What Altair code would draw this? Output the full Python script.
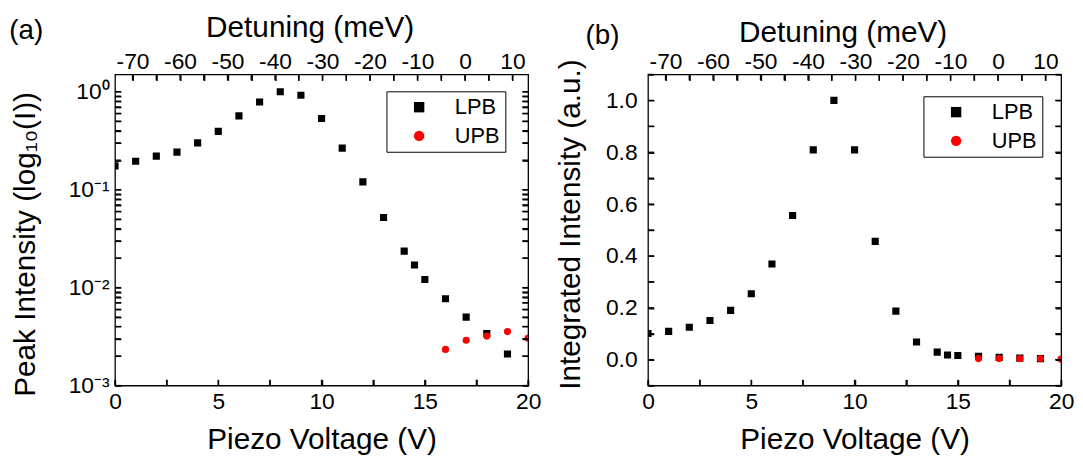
import altair as alt
import pandas as pd

FONT = "Liberation Sans"

# ---------------- data ----------------
lpb_v = [0, 1, 2, 3, 4, 5, 6, 7, 8, 9, 10, 11, 12, 13, 14, 14.5, 15, 16, 17, 18, 19]
lpb_peak = [0.175, 0.195, 0.22, 0.242, 0.30, 0.394, 0.567, 0.785, 1.0, 0.92, 0.533,
            0.266, 0.12, 0.052, 0.0236, 0.017, 0.0121, 0.0077, 0.0050, 0.0034, 0.0021]
lpb_int = [0.101, 0.109, 0.125, 0.151, 0.19, 0.254, 0.369, 0.556, 0.809, 1.0, 0.809,
           0.456, 0.187, 0.068, 0.029, 0.018, 0.016, 0.013, 0.009, 0.006, 0.004]
upb_v = [16, 17, 18, 19, 20]
upb_peak = [0.00234, 0.0029, 0.0032, 0.00356, 0.00305]
upb_int = [0.004, 0.004, 0.004, 0.004, 0.002]

branch_names = ["LPB", "UPB"]
branch_colors = ["#000000", "#ff0000"]
branch_shapes = ["square", "circle"]

piezo_domain = [0, 20]
piezo_labels = [0, 5, 10, 15, 20]
piezo_ticks = [0, 2.5, 5, 7.5, 10, 12.5, 15, 17.5, 20]
# detuning (meV) at piezo 0 V and 20 V
detuning_range = [-73.7, 13.3]
detuning_labels = [-70, -60, -50, -40, -30, -20, -10, 0, 10]
detuning_ticks = [-70, -65, -60, -55, -50, -45, -40, -35, -30, -25, -20, -15, -10, -5, 0, 5, 10]
peak_domain = [0.001, 1.5]
peak_label_values = [0.001, 0.01, 0.1, 1]
peak_label_texts = ["10⁻³", "10⁻²", "10⁻¹", "10⁰"]
peak_ticks = [0.001, 0.002, 0.003, 0.004, 0.005, 0.006, 0.007, 0.008, 0.009,
              0.01, 0.02, 0.03, 0.04, 0.05, 0.06, 0.07, 0.08, 0.09,
              0.1, 0.2, 0.3, 0.4, 0.5, 0.6, 0.7, 0.8, 0.9, 1.0]
int_domain = [-0.1, 1.1]
int_labels = [0.0, 0.2, 0.4, 0.6, 0.8, 1.0]
int_label_texts = ["0.0", "0.2", "0.4", "0.6", "0.8", "1.0"]
int_ticks = [-0.1, 0.0, 0.1, 0.2, 0.3, 0.4, 0.5, 0.6, 0.7, 0.8, 0.9, 1.0, 1.1]

W, H = 417, 314
TL = 6                                  # tick length (px), drawn inward
TICK = alt.ExprRef(expr=f"-{TL}")
TICK_W = 1.4

# detuning -> piezo position (the top axis is drawn on the piezo scale)
d0, d1 = detuning_range
span = (d1 - d0) / (piezo_domain[1] - piezo_domain[0])


def det_to_v(d):
    return (d - d0) / span


det_tick_pos = [det_to_v(d) for d in detuning_ticks]
det_val = f"round(datum.value * {span} + ({d0}))"
det_expr = f"({det_val}) % 10 == 0 ? '' + ({det_val}) : ''"


def build_df(values_lpb, values_upb, y_ticks):
    rows = []
    for v, y in zip(lpb_v, values_lpb):
        rows.append({"V": v, "val": y, "Branch": "LPB", "kind": "data"})
    for v, y in zip(upb_v, values_upb):
        rows.append({"V": v, "val": y, "Branch": "UPB", "kind": "data"})
    for v in piezo_ticks:
        rows.append({"V": v, "val": None, "Branch": None, "kind": "xb"})
    for v in det_tick_pos:
        rows.append({"V": v, "val": None, "Branch": None, "kind": "xt"})
    for y in y_ticks:
        rows.append({"V": None, "val": y, "Branch": None, "kind": "y"})
    return pd.DataFrame(rows)


df_a = build_df(lpb_peak, upb_peak, peak_ticks)
df_b = build_df(lpb_int, upb_int, int_ticks)

piezo_scale = alt.Scale(domain=piezo_domain, nice=False, zero=False)
peak_scale = alt.Scale(type="log", domain=peak_domain, nice=False)
int_scale = alt.Scale(domain=int_domain, nice=False, zero=False)


def label_expr(values, texts, rel):
    expr = "''"
    for v, t in zip(values, texts):
        tol = abs(v) * 0.01 if rel else 1e-6
        expr = f"abs(datum.value - ({v})) < {tol} ? '{t}' : " + expr
    return expr


piezo_expr = label_expr(piezo_labels, [str(v) for v in piezo_labels], False)

COMMON = dict(grid=False, domain=False, labelFlush=False, labelOverlap=False,
              tickColor="black", tickWidth=TICK_W, tickOpacity=1, zindex=1)


def panel(df, yscale, ytitle, y_ticks, y_expr, legend_xy, letter,
          letter_dx, letter_dy, ytitle_y, ytitle_pad, ylabel_pad, top_title_pad):
    legend = alt.Legend(orient="none", legendX=legend_xy[0], legendY=legend_xy[1], title=None,
                        strokeColor="black", fillColor="white", padding=5, labelFontSize=22,
                        labelFont=FONT, labelColor="black", symbolSize=110, symbolOffset=17,
                        labelOffset=25, rowPadding=7, symbolStrokeWidth=0,
                        labelExpr="datum.label + '  '")
    base = alt.Chart(df)
    pts = base.transform_filter("datum.kind == 'data'").mark_point(
        filled=True, size=52, opacity=1, clip=True
    ).encode(
        x=alt.X("V:Q", scale=piezo_scale,
                axis=alt.Axis(orient="bottom", values=piezo_ticks, labelExpr=piezo_expr,
                              ticks=True, tickSize=TICK, title="Piezo Voltage (V)",
                              labelPadding=11, titlePadding=12, **COMMON)),
        y=alt.Y("val:Q", scale=yscale,
                axis=alt.Axis(orient="left", values=y_ticks, labelExpr=y_expr,
                              ticks=True, tickSize=TICK, title=ytitle,
                              labelPadding=ylabel_pad, titlePadding=ytitle_pad,
                              titleY=ytitle_y, **COMMON)),
        color=alt.Color("Branch:N", scale=alt.Scale(domain=branch_names, range=branch_colors),
                        legend=legend),
        shape=alt.Shape("Branch:N", scale=alt.Scale(domain=branch_names, range=branch_shapes),
                        legend=legend),
    )
    top_axis = alt.Axis(orient="top", values=det_tick_pos, labelExpr=det_expr,
                        ticks=True, tickSize=TICK, title="Detuning (meV)",
                        labelPadding=7, titlePadding=top_title_pad, titleX=W / 2 - 12,
                        **COMMON)
    top = base.transform_filter("datum.kind == 'data'").mark_point(opacity=0).encode(
        x=alt.X("V:Q", scale=piezo_scale, axis=top_axis),
        y=alt.Y("val:Q", scale=yscale, axis=None),
    )
    right_axis = alt.Axis(orient="right", values=y_ticks, labels=False, ticks=True,
                          tickSize=TICK, title=None, **COMMON)
    right = base.transform_filter("datum.kind == 'data'").mark_point(opacity=0).encode(
        x=alt.X("V:Q", scale=piezo_scale, axis=None),
        y=alt.Y("val:Q", scale=yscale, axis=right_axis),
    )
    # tick marks drawn as marks too (same places as the axis ticks)
    tick_kw = dict(thickness=TICK_W, size=TL, color="black", opacity=1)
    xb = base.transform_filter("datum.kind == 'xb'").mark_tick(orient="vertical", **tick_kw).encode(
        x=alt.X("V:Q", scale=piezo_scale, axis=None), y=alt.value(H - TL / 2))
    xt = base.transform_filter("datum.kind == 'xt'").mark_tick(orient="vertical", **tick_kw).encode(
        x=alt.X("V:Q", scale=piezo_scale, axis=None), y=alt.value(TL / 2))
    yl = base.transform_filter("datum.kind == 'y'").mark_tick(orient="horizontal", **tick_kw).encode(
        y=alt.Y("val:Q", scale=yscale, axis=None), x=alt.value(TL / 2))
    yr = base.transform_filter("datum.kind == 'y'").mark_tick(orient="horizontal", **tick_kw).encode(
        y=alt.Y("val:Q", scale=yscale, axis=None), x=alt.value(W - TL / 2))
    return alt.layer(top, right, pts, xb, xt, yl, yr).resolve_axis(
        x="independent", y="independent"
    ).properties(
        width=W, height=H,
        title=alt.TitleParams(letter, anchor="start", frame="bounds", fontSize=28, font=FONT,
                              fontWeight="normal", color="black", dx=letter_dx, dy=letter_dy,
                              offset=0),
    )


pa = panel(df_a, peak_scale, "Peak Intensity (log₁₀(I))",
           peak_ticks, label_expr(peak_label_values, peak_label_texts, True),
           (274, 17), "(a)", -1.5, 32, H / 2 + 14, 28, 12, 8)

pb = panel(df_b, int_scale, "Integrated Intensity (a.u.)",
           int_ticks, label_expr(int_labels, int_label_texts, False),
           (278, 22), "(b)", 30, 32, H / 2 - 6, 20, 17, 3)

chart = alt.hconcat(pa, pb, spacing=13).resolve_scale(
    color="independent", shape="independent"
).resolve_legend(
    color="independent", shape="independent"
).configure(
    font=FONT, padding={"left": 0, "top": 2, "right": 0, "bottom": 0}
).configure_view(
    stroke="black", strokeWidth=1.3
).configure_axis(
    labelFont=FONT, titleFont=FONT, labelFontSize=23, titleFontSize=30,
    labelColor="black", titleColor="black", titleFontWeight="normal"
)

chart.save("out.html", embed_options={"renderer": "svg", "actions": False})
